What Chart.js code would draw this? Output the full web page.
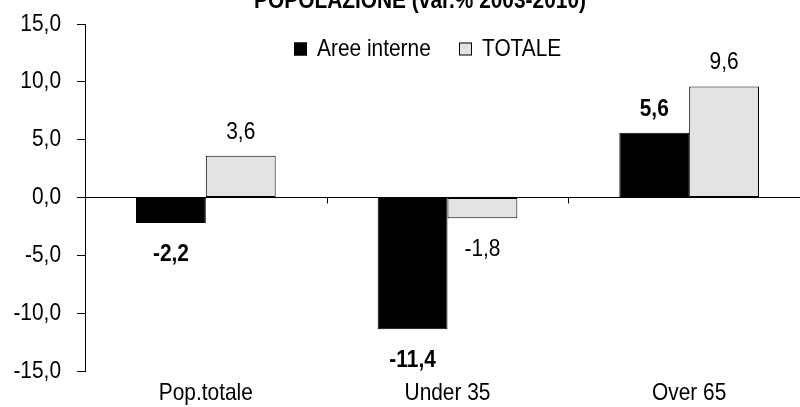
<!DOCTYPE html>
<html>
<head>
<meta charset="utf-8">
<script src="https://cdn.jsdelivr.net/npm/chart.js@4.4.1/dist/chart.umd.min.js"></script>
<style>
  html, body { margin: 0; padding: 0; overflow: hidden; background: #fff; }
  #wrap { position: relative; width: 810px; height: 407px; }
</style>
</head>
<body>
<div id="wrap"><canvas id="c"></canvas></div>
<script>
// Population change by age group, % 2003-2010
const titleText = 'POPOLAZIONE (var.% 2003-2010)';
const categories = ['Pop.totale', 'Under 35', 'Over 65'];
const seriesNames = ['Aree interne', 'TOTALE'];
const areeInterne = [-2.2, -11.4, 5.6];
const totale = [3.6, -1.8, 9.6];
const yTicks = [-15, -10, -5, 0, 5, 10, 15];

const FONT = "'Liberation Sans', Arial, sans-serif";
const SIZE = 24;
const NARROW = 0.87; // horizontal squeeze for a narrow typeface look
const fmt = v => v.toFixed(1).replace('.', ',');

// draw horizontally condensed text
function narrowText(ctx, text, x, y, align, baseline, bold) {
  ctx.save();
  ctx.font = (bold ? 'bold ' : '') + SIZE + 'px ' + FONT;
  ctx.textAlign = align;
  ctx.textBaseline = baseline;
  ctx.fillStyle = '#000';
  ctx.translate(x, y);
  ctx.scale(NARROW, 1);
  ctx.fillText(text, 0, 0);
  ctx.restore();
}

// Title, legend, axis labels, value labels and category ticks on the zero line
const decor = {
  id: 'decor',
  afterDatasetsDraw(chart) {
    const ctx = chart.ctx;
    const xs = chart.scales.x, ys = chart.scales.y;
    const y0 = ys.getPixelForValue(0);
    ctx.save();

    // small ticks between categories, hanging under the zero line
    ctx.strokeStyle = '#000';
    ctx.lineWidth = 1;
    for (let i = 1; i < categories.length; i++) {
      const x = Math.round((xs.getPixelForValue(i - 1) + xs.getPixelForValue(i)) / 2) + 0.5;
      ctx.beginPath();
      ctx.moveTo(x, y0);
      ctx.lineTo(x, y0 + 6);
      ctx.stroke();
    }

    // y tick labels
    ys.ticks.forEach(t => {
      narrowText(ctx, fmt(t.value), ys.right - 24, ys.getPixelForValue(t.value), 'right', 'middle', false);
    });

    // category labels
    categories.forEach((c, i) => {
      narrowText(ctx, c, xs.getPixelForValue(i), 400, 'center', 'alphabetic', false);
    });

    // value labels
    chart.data.datasets.forEach((ds, di) => {
      const meta = chart.getDatasetMeta(di);
      meta.data.forEach((bar, i) => {
        const v = ds.data[i];
        const y = v >= 0 ? bar.y - 17 : bar.y + 38;
        narrowText(ctx, fmt(v), bar.x, y, 'center', 'alphabetic', di === 0);
      });
    });

    // legend
    let lx = 294;
    const ly = 49;
    chart.data.datasets.forEach((ds, di) => {
      ctx.fillStyle = ds.backgroundColor;
      ctx.fillRect(lx, ly - 6.5, 13, 13);
      ctx.strokeStyle = '#000';
      ctx.strokeRect(lx + 0.5, ly - 6, 12, 12);
      narrowText(ctx, ds.label, lx + 23, ly, 'left', 'middle', false);
      lx += 165;
    });

    // title (partly above the top edge)
    narrowText(ctx, titleText, 420, 8, 'center', 'alphabetic', true);
    ctx.restore();
  }
};

new Chart(document.getElementById('c'), {
  type: 'bar',
  data: {
    labels: categories,
    datasets: [
      { label: seriesNames[0], data: areeInterne, backgroundColor: '#000000', borderColor: '#000', borderWidth: 1, borderSkipped: false },
      { label: seriesNames[1], data: totale, backgroundColor: '#e3e3e3', borderColor: '#000', borderWidth: 1, borderSkipped: false }
    ]
  },
  options: {
    responsive: true,
    maintainAspectRatio: false,
    animation: false,
    devicePixelRatio: 1,
    layout: { padding: { top: 24, right: 0, bottom: 36, left: 0 } },
    plugins: { legend: { display: false }, title: { display: false }, tooltip: { enabled: false } },
    datasets: { bar: { categoryPercentage: 0.578, barPercentage: 1 } },
    scales: {
      x: {
        afterFit(scale) { scale.height = 0; },
        grid: { display: false },
        border: { display: false },
        ticks: { display: false }
      },
      y: {
        min: -15, max: 15,
        afterFit(scale) { scale.width = 85; },
        afterBuildTicks(scale) { scale.ticks = yTicks.map(v => ({ value: v })); },
        grid: {
          drawOnChartArea: true,
          color: c => (c.tick && c.tick.value === 0 ? '#000' : 'rgba(0,0,0,0)'),
          tickColor: '#000',
          tickLength: 8,
          lineWidth: 1
        },
        border: { display: true, color: '#000', width: 1 },
        ticks: { display: false }
      }
    }
  },
  plugins: [decor]
});
</script>
</body>
</html>
